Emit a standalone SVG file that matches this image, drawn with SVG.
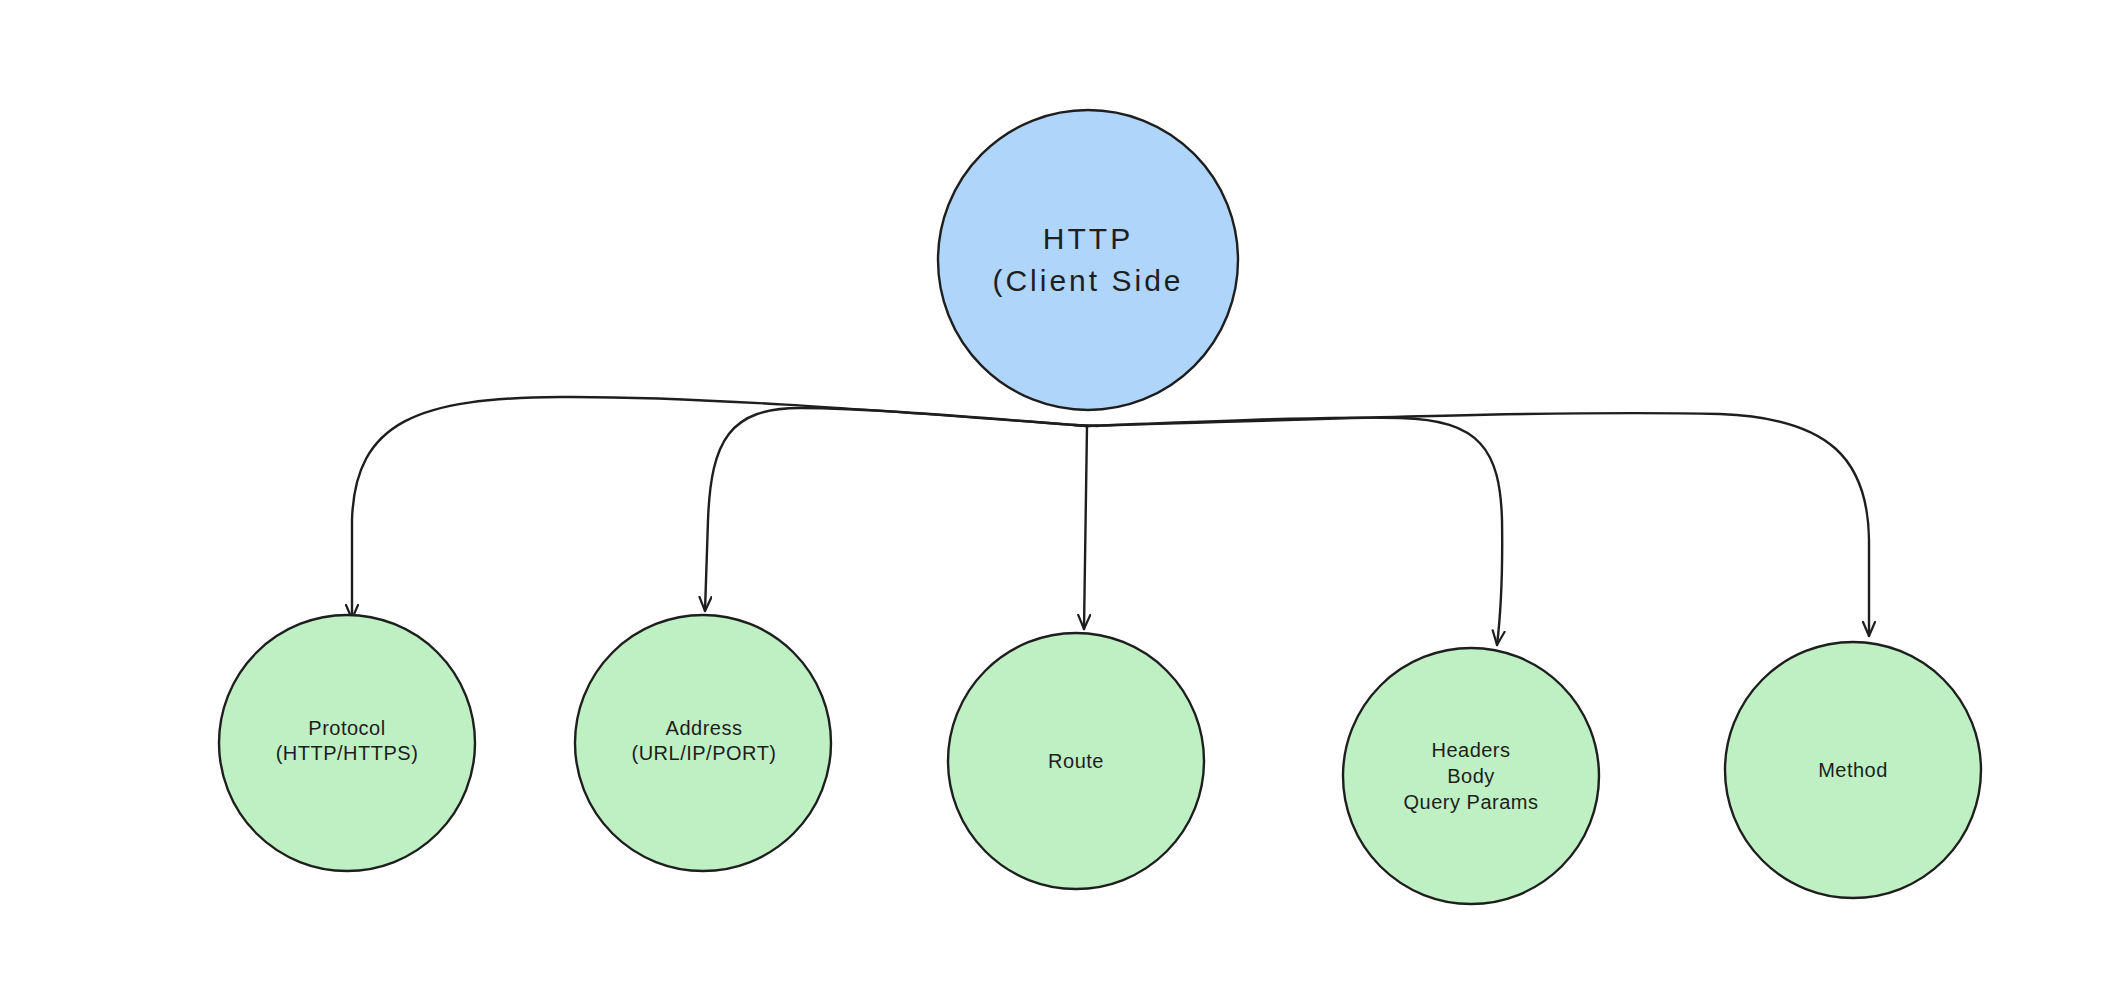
<svg xmlns="http://www.w3.org/2000/svg" width="2109" height="1001" viewBox="0 0 2109 1001">
<style>
.bg{fill:#ffffff}
.root{fill:#afd5fa;stroke:#1e1e1e;stroke-width:2.4}
.leaf{fill:#bff0c3;stroke:#1e1e1e;stroke-width:2.4}
.edge{fill:none;stroke:#1e1e1e;stroke-width:2.4;stroke-linecap:round}
.t{font-family:"Liberation Sans","Noto Sans",sans-serif;fill:#1e1e1e;text-anchor:middle}
.big{font-size:30px;letter-spacing:3px}
.small{font-size:20px;letter-spacing:0.5px}
</style>
<defs>
<marker id="arrow" markerUnits="userSpaceOnUse" markerWidth="22" markerHeight="22" refX="15" refY="7" orient="auto">
<path d="M1,1 L15,7 L1,13" fill="none" stroke="#1e1e1e" stroke-width="2.2" stroke-linecap="round" stroke-linejoin="round"/>
</marker>
</defs>
<rect class="bg" x="0" y="0" width="2109" height="1001"/>
<g id="connectors">
<path class="edge" marker-end="url(#arrow)" d="M1087,426 C900,412 700,396 560,397 C420,398 355,420 352,520 L352,619"/>
<path class="edge" marker-end="url(#arrow)" d="M1087,426 C960,416 860,408 800,408 C730,408 711,440 708,520 L705,611"/>
<path class="edge" marker-end="url(#arrow)" d="M1087,426 L1084,629"/>
<path class="edge" marker-end="url(#arrow)" d="M1087,426 C1200,422 1320,416 1400,418 C1480,420 1500,450 1502,520 C1503,580 1500,620 1497,645"/>
<path class="edge" marker-end="url(#arrow)" d="M1087,426 C1300,420 1550,410 1720,414 C1830,418 1868,460 1869,540 L1869,636"/>
<path class="edge" d="M1074,425 L1098,426"/>
</g>
<g id="node-http">
<circle class="root" cx="1088" cy="260" r="150"/>
<text class="t big" x="1088" y="249">HTTP</text>
<text class="t big" x="1088" y="291">(Client Side</text>
</g>
<g id="node-protocol">
<circle class="leaf" cx="347" cy="743" r="128"/>
<text class="t small" x="347" y="735">Protocol</text>
<text class="t small" x="347" y="760">(HTTP/HTTPS)</text>
</g>
<g id="node-address">
<circle class="leaf" cx="703" cy="743" r="128"/>
<text class="t small" x="704" y="735">Address</text>
<text class="t small" x="704" y="760">(URL/IP/PORT)</text>
</g>
<g id="node-route">
<circle class="leaf" cx="1076" cy="761" r="128"/>
<text class="t small" x="1076" y="768">Route</text>
</g>
<g id="node-headers">
<circle class="leaf" cx="1471" cy="776" r="128"/>
<text class="t small" x="1471" y="757">Headers</text>
<text class="t small" x="1471" y="783">Body</text>
<text class="t small" x="1471" y="809">Query Params</text>
</g>
<g id="node-method">
<circle class="leaf" cx="1853" cy="770" r="128"/>
<text class="t small" x="1853" y="777">Method</text>
</g>
</svg>
